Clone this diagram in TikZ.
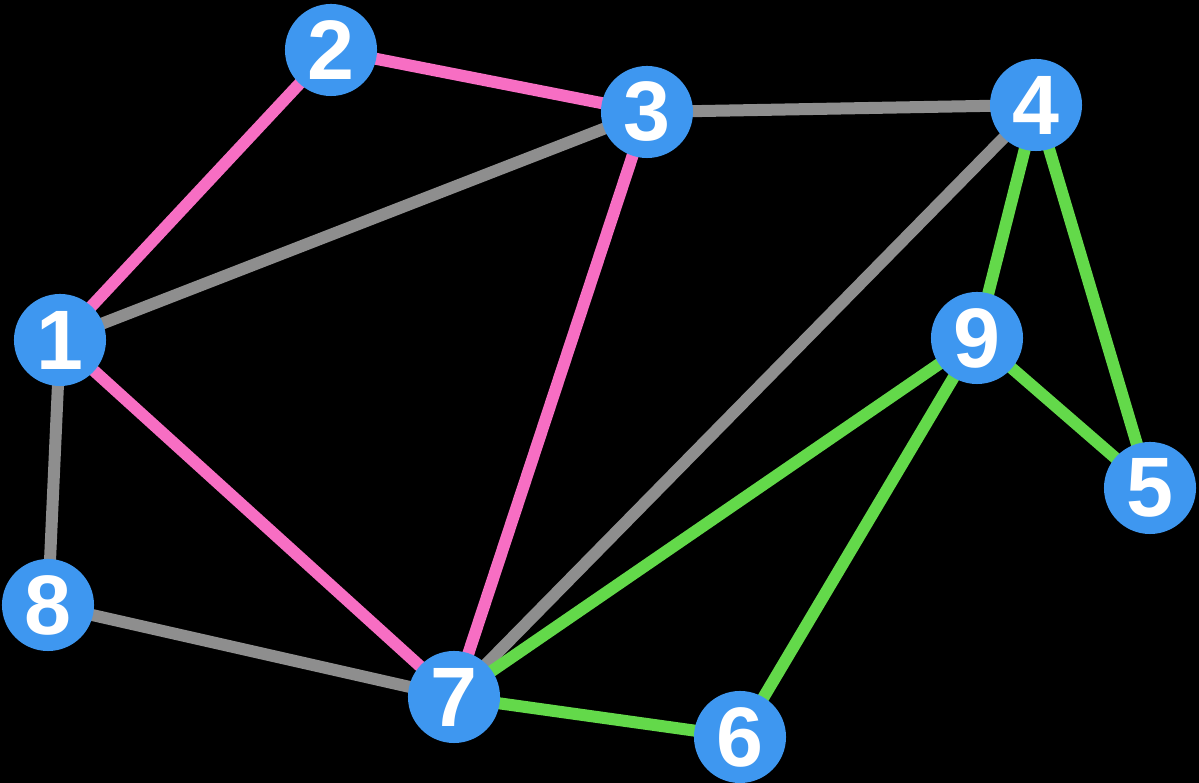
\documentclass[tikz,border=0pt]{standalone}
\usepackage{fontspec}
\setmainfont{Liberation Sans}
\usetikzlibrary{backgrounds}
\definecolor{nb}{HTML}{3E97F0}
\definecolor{pk}{HTML}{F76EC3}
\definecolor{gy}{HTML}{8E8E8E}
\definecolor{gn}{HTML}{63D94A}
\begin{document}
\begin{tikzpicture}[x=0.01cm,y=-0.01cm,
  v/.style={circle,fill=nb,minimum size=0.92cm,inner sep=0pt,text=white,font=\bfseries\fontsize{24}{24}\selectfont},
  e/.style={line width=0.12cm}]
\useasboundingbox (0,0) rectangle (1199,783);
\node[v] (n1) at (60,340) {1};
\node[v] (n2) at (331,50) {2};
\node[v] (n3) at (647,112) {3};
\node[v] (n4) at (1036,105) {4};
\node[v] (n5) at (1150,488) {5};
\node[v] (n6) at (740,737) {6};
\node[v] (n7) at (454,697) {7};
\node[v] (n8) at (48,605) {8};
\node[v] (n9) at (977,338) {9};
\begin{scope}[on background layer]
\fill[black] (0,0) rectangle (1199,783);
\draw[e,pk] (n1.center)--(n2.center) (n2.center)--(n3.center) (n3.center)--(n7.center) (n1.center)--(n7.center);
\draw[e,gy] (n1.center)--(n3.center) (n3.center)--(n4.center) (n4.center)--(n7.center) (n1.center)--(n8.center) (n8.center)--(n7.center);
\draw[e,gn] (n4.center)--(n9.center) (n4.center)--(n5.center) (n9.center)--(n5.center) (n9.center)--(n7.center) (n9.center)--(n6.center) (n7.center)--(n6.center);
\end{scope}
\end{tikzpicture}
\end{document}
